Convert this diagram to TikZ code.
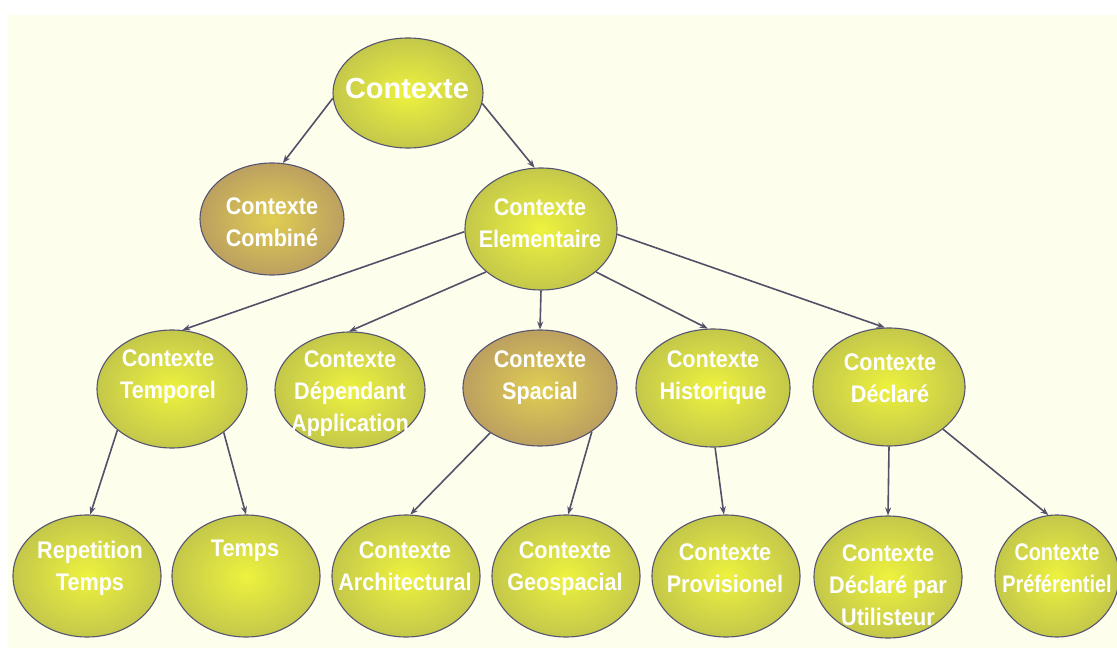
\documentclass[tikz,border=0pt]{standalone}
\usepackage{fontspec}
\usetikzlibrary{shapes.geometric,arrows.meta}
\newfontfamily\bubblefont{Liberation Sans}[FakeStretch=0.9]
\definecolor{paper}{RGB}{254,254,236}
\definecolor{limein}{RGB}{238,242,62}
\definecolor{limeout}{RGB}{196,200,74}
\definecolor{tanin}{RGB}{224,206,82}
\definecolor{tanout}{RGB}{188,160,96}
\definecolor{rim}{RGB}{86,84,112}
\definecolor{linkcol}{RGB}{84,80,104}
\tikzset{
  bubble/.style={ellipse, draw=rim, line width=1.1pt, inner sep=0pt,
    shading=radial, inner color=limein, outer color=limeout},
  tanbubble/.style={bubble, inner color=tanin, outer color=tanout},
  btext/.style={text=white, align=center, inner sep=0pt,
    font=\bubblefont\bfseries\fontsize{24}{32}\selectfont},
  link/.style={draw=linkcol, line width=1.6pt, -{Stealth[length=8pt,width=6pt]}}
}
\begin{document}
\begin{tikzpicture}[x=1pt,y=-1pt]
\useasboundingbox (0,0) rectangle (1117,652);
\fill[white] (0,0) rectangle (1117,652);
\fill[paper] (8,15) rectangle (1117,648);

% bubbles
\node[bubble, minimum width=150pt, minimum height=110pt] (ctx) at (408,93) {};
\node[tanbubble, minimum width=144pt, minimum height=112pt] (comb) at (272,219) {};
\node[bubble, minimum width=152pt, minimum height=122pt] (elem) at (541,229) {};

\node[bubble, minimum width=150pt, minimum height=118pt] (temp) at (172,389) {};
\node[bubble, minimum width=150pt, minimum height=116pt] (dep) at (350,390) {};
\node[tanbubble, minimum width=154pt, minimum height=116pt] (spa) at (540,388) {};
\node[bubble, minimum width=154pt, minimum height=118pt] (hist) at (713,388) {};
\node[bubble, minimum width=152pt, minimum height=118pt] (decl) at (889,387) {};

\node[bubble, minimum width=148pt, minimum height=122pt] (rep) at (87,576) {};
\node[bubble, minimum width=148pt, minimum height=122pt] (tps) at (246,576) {};
\node[bubble, minimum width=148pt, minimum height=122pt] (arch) at (406,576) {};
\node[bubble, minimum width=148pt, minimum height=122pt] (geo) at (566,576) {};
\node[bubble, minimum width=148pt, minimum height=122pt] (prov) at (726,576) {};
\node[bubble, minimum width=148pt, minimum height=122pt] (decu) at (888,577) {};
\node[bubble, minimum width=124pt, minimum height=122pt] (pref) at (1057,576) {};

% labels
\node[btext, font=\bubblefont\bfseries\fontsize{29}{34}\selectfont, xscale=1.11] (t-ctx) at (407,89) {Contexte};
\node[btext] (t-comb) at (272,222) {Contexte\\Combiné};
\node[btext] (t-elem) at (540,223) {Contexte\\Elementaire};
\node[btext] (t-temp) at (168,377) {Contexte\\Temporel};
\node[btext] (t-dep) at (350,394) {Contexte\\Dépendant\\Application};
\node[btext] (t-spa) at (540,378) {Contexte\\Spacial};
\node[btext] (t-hist) at (713,378) {Contexte\\Historique};
\node[btext] (t-decl) at (890,378) {Contexte\\Déclaré};
\node[btext] (t-rep) at (90,568) {Repetition\\Temps};
\node[btext] (t-tps) at (245,551) {Temps};
\node[btext] (t-arch) at (405,566) {Contexte\\Architectural};
\node[btext] (t-geo) at (565,569) {Contexte\\Geospacial};
\node[btext] (t-prov) at (725,568) {Contexte\\Provisionel};
\node[btext] (t-decu) at (888,585) {Contexte\\Déclaré par\\Utilisteur};
\node[btext, xscale=0.92] (t-pref) at (1057,568) {Contexte\\Préférentiel};

% connectors
\draw[link] (ctx.184) -- (comb.79);
\draw[link] (ctx.352) -- (elem.96);
\draw[link] (elem.182) -- (temp.80);
\draw[link] (elem.218) -- (dep.91);
\draw[link] (elem.270) -- (spa.90);
\draw[link] (elem.322) -- (hist.95);
\draw[link] (elem.356) -- (decl.94);
\draw[link] (temp.217) -- (rep.87);
\draw[link] (temp.320) -- (tps.90);
\draw[link] (spa.222) -- (arch.86);
\draw[link] (spa.320) -- (geo.88);
\draw[link] (hist.272) -- (prov.92);
\draw[link] (decl.270) -- (decu.90);
\draw[link] (decl.322) -- (pref.98);
\end{tikzpicture}
\end{document}
